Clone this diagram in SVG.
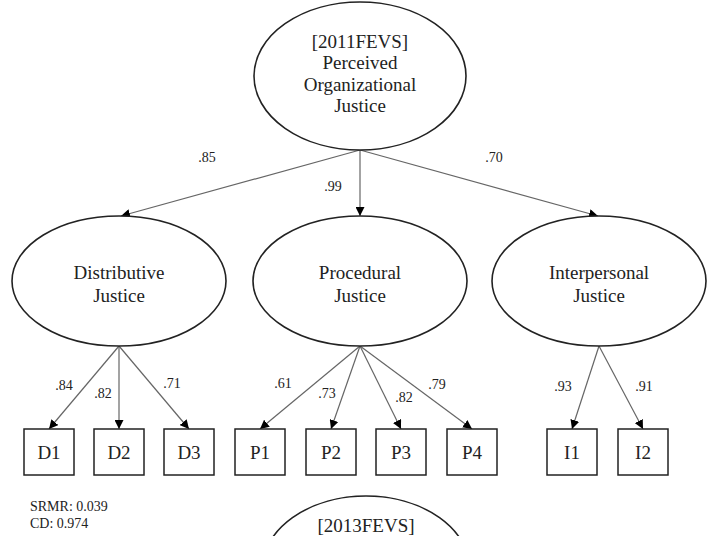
<svg xmlns="http://www.w3.org/2000/svg" width="715" height="536" viewBox="0 0 715 536">
<defs>
<marker id="ah" viewBox="0 0 10 10" refX="10" refY="5" markerWidth="9" markerHeight="9" markerUnits="userSpaceOnUse" orient="auto">
<path d="M0,0 L10,5 L0,10 z" fill="#000"/>
</marker>
<style>
.lat{fill:#fff;stroke:#222;stroke-width:1.6}
.obs{fill:#fff;stroke:#222;stroke-width:1.5}
.t{font-family:"Liberation Serif","DejaVu Serif",serif;font-size:19px;fill:#222;text-anchor:middle}
.l{font-family:"Liberation Serif","DejaVu Serif",serif;font-size:14px;fill:#222;text-anchor:middle}
.s{font-family:"Liberation Serif","DejaVu Serif",serif;font-size:14px;fill:#222}
.c{stroke:#666;stroke-width:1.2;fill:none;marker-end:url(#ah)}
</style>
</defs>
<rect width="715" height="536" fill="#fff"/>
<g id="connectors">
<line class="c" x1="360" y1="150" x2="121" y2="216"/>
<line class="c" x1="360" y1="150" x2="360" y2="216"/>
<line class="c" x1="360" y1="150" x2="598" y2="216"/>
<line class="c" x1="119" y1="346" x2="49" y2="429"/>
<line class="c" x1="119" y1="346" x2="119" y2="429"/>
<line class="c" x1="119" y1="346" x2="189" y2="429"/>
<line class="c" x1="360" y1="346" x2="260" y2="429"/>
<line class="c" x1="360" y1="346" x2="331" y2="429"/>
<line class="c" x1="360" y1="346" x2="401" y2="429"/>
<line class="c" x1="360" y1="346" x2="472" y2="429"/>
<line class="c" x1="599" y1="346" x2="572" y2="429"/>
<line class="c" x1="599" y1="346" x2="643" y2="429"/>
<text class="l" x="207" y="162">.85</text>
<text class="l" x="333" y="191">.99</text>
<text class="l" x="494" y="162">.70</text>
<text class="l" x="64" y="390">.84</text>
<text class="l" x="103" y="398">.82</text>
<text class="l" x="172" y="388">.71</text>
<text class="l" x="283" y="388">.61</text>
<text class="l" x="327" y="398">.73</text>
<text class="l" x="404" y="402">.82</text>
<text class="l" x="437" y="389">.79</text>
<text class="l" x="563" y="391">.93</text>
<text class="l" x="644" y="391">.91</text>
</g>
<g id="poj2011">
<ellipse class="lat" cx="360" cy="76" rx="106" ry="74"/>
<text class="t" x="360" y="48">[2011FEVS]</text>
<text class="t" x="360" y="69">Perceived</text>
<text class="t" x="360" y="91">Organizational</text>
<text class="t" x="360" y="112">Justice</text>
</g>
<g id="distributive">
<ellipse class="lat" cx="119" cy="281" rx="107" ry="65"/>
<text class="t" x="119" y="279">Distributive</text>
<text class="t" x="119" y="302">Justice</text>
</g>
<g id="procedural">
<ellipse class="lat" cx="360" cy="281" rx="107" ry="65"/>
<text class="t" x="360" y="279">Procedural</text>
<text class="t" x="360" y="302">Justice</text>
</g>
<g id="interpersonal">
<ellipse class="lat" cx="599" cy="281" rx="107" ry="65"/>
<text class="t" x="599" y="279">Interpersonal</text>
<text class="t" x="599" y="302">Justice</text>
</g>
<g id="D1"><rect class="obs" x="24" y="429" width="50" height="46"/><text class="t" x="49" y="459">D1</text></g>
<g id="D2"><rect class="obs" x="94" y="429" width="50" height="46"/><text class="t" x="119" y="459">D2</text></g>
<g id="D3"><rect class="obs" x="164" y="429" width="50" height="46"/><text class="t" x="189" y="459">D3</text></g>
<g id="P1"><rect class="obs" x="235" y="429" width="50" height="46"/><text class="t" x="260" y="459">P1</text></g>
<g id="P2"><rect class="obs" x="306" y="429" width="50" height="46"/><text class="t" x="331" y="459">P2</text></g>
<g id="P3"><rect class="obs" x="376" y="429" width="50" height="46"/><text class="t" x="401" y="459">P3</text></g>
<g id="P4"><rect class="obs" x="447" y="429" width="50" height="46"/><text class="t" x="472" y="459">P4</text></g>
<g id="I1"><rect class="obs" x="547" y="429" width="50" height="46"/><text class="t" x="572" y="459">I1</text></g>
<g id="I2"><rect class="obs" x="618" y="429" width="50" height="46"/><text class="t" x="643" y="459">I2</text></g>
<g id="fit">
<text class="s" x="30" y="511">SRMR: 0.039</text>
<text class="s" x="30" y="528">CD: 0.974</text>
</g>
<g id="poj2013">
<ellipse class="lat" cx="366" cy="570" rx="104" ry="74"/>
<text class="t" x="366" y="532">[2013FEVS]</text>
</g>
</svg>
